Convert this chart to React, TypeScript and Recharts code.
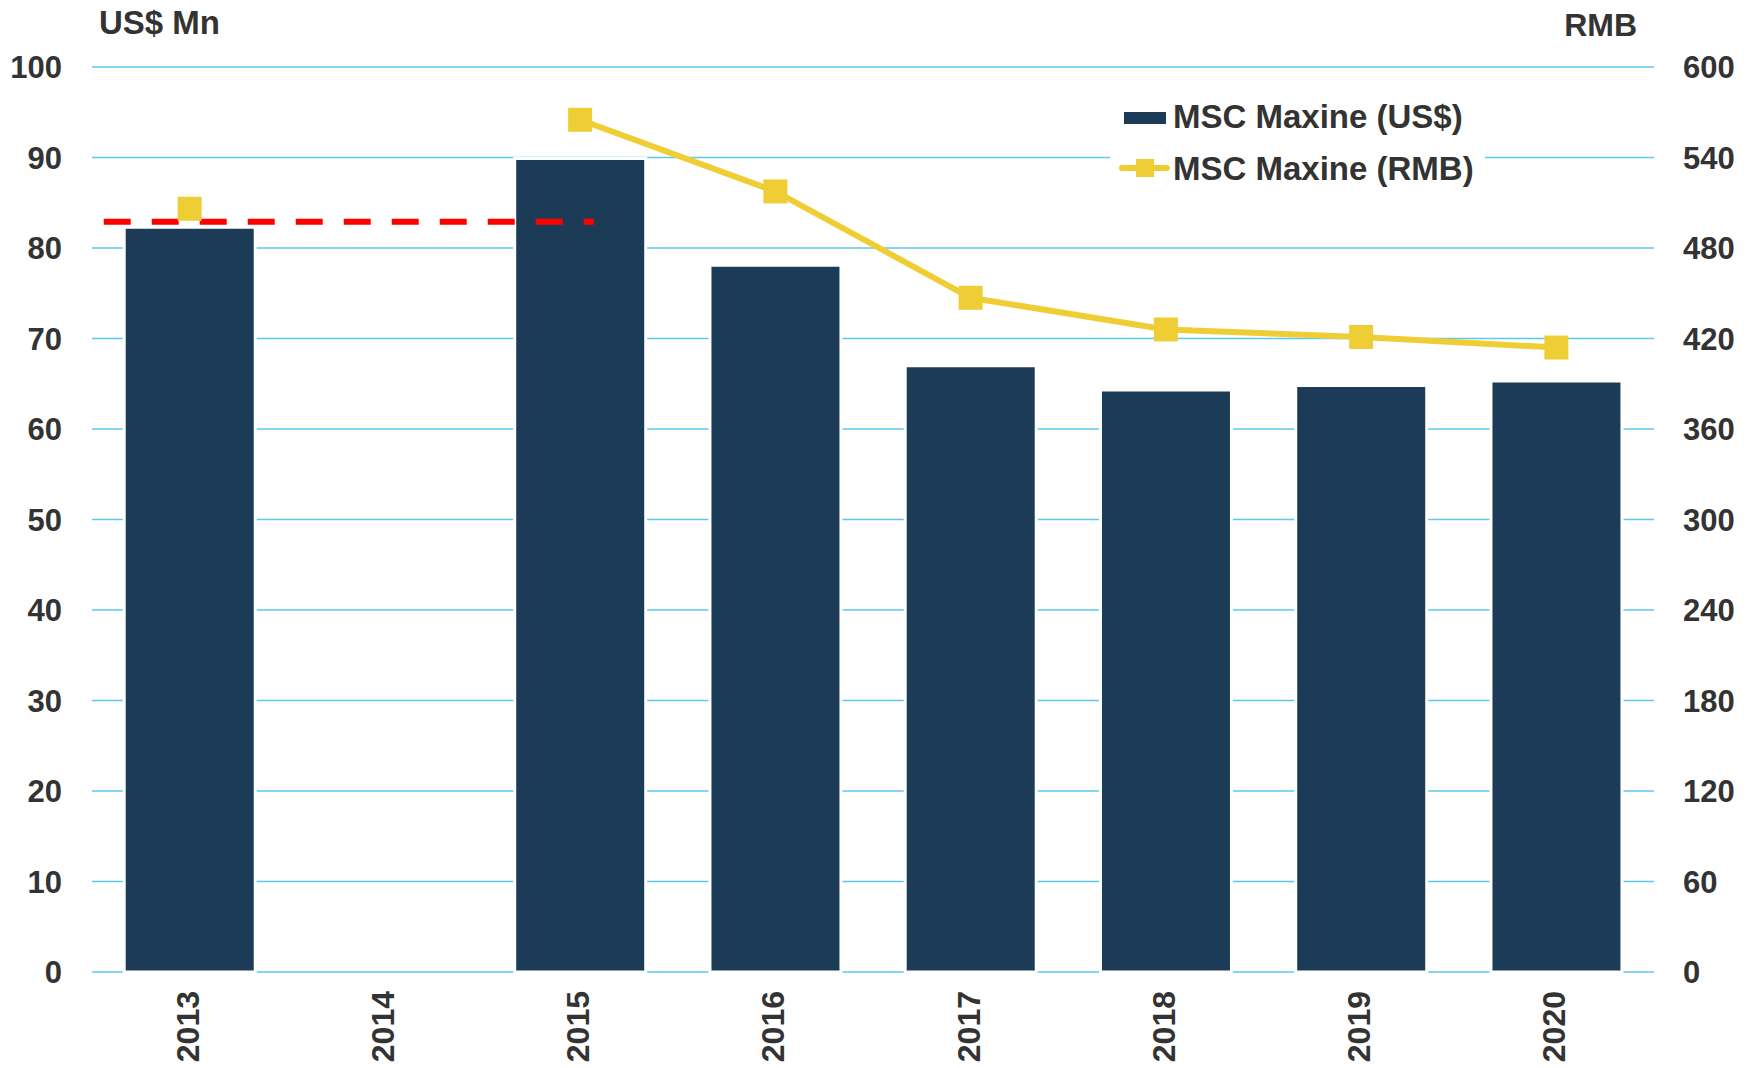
import React from 'react';
import {
  ComposedChart,
  Bar,
  Line,
  XAxis,
  YAxis,
  CartesianGrid,
  ReferenceLine,
  Legend,
} from 'recharts';

const categories = ['2013', '2014', '2015', '2016', '2017', '2018', '2019', '2020'];
const usdValues: (number | null)[] = [82.3, null, 89.9, 78.1, 67.0, 64.3, 64.8, 65.3];
const rmbValues: (number | null)[] = [506, null, 565, 517.5, 447, 426, 421, 414];
const leftTicks = [0, 10, 20, 30, 40, 50, 60, 70, 80, 90, 100];
const rightTicks = [0, 60, 120, 180, 240, 300, 360, 420, 480, 540, 600];
const refLineValue = 82.9;
const refLineStart = 0.06;
const refLineEnd = 2.57;

const usdName = 'MSC Maxine (US$)';
const rmbName = 'MSC Maxine (RMB)';

const data = categories.map((c, i) => ({ year: c, usd: usdValues[i], rmb: rmbValues[i] }));

const BAR_COLOR = '#1B3B56';
const LINE_COLOR = '#EFCE35';
const GRID_COLOR = '#5BC8EE';
const TEXT_COLOR = '#333333';
const FONT = '"Liberation Sans", Arial, sans-serif';

const LeftTick = (props: any) => {
  const { x, y, payload } = props;
  return (
    <text x={x - 30} y={y} dy="0.36em" textAnchor="end" fontFamily={FONT} fontWeight="bold" fontSize={31} fill={TEXT_COLOR}>
      {payload.value}
    </text>
  );
};

const RightTick = (props: any) => {
  const { x, y, payload } = props;
  return (
    <text x={x + 29} y={y} dy="0.36em" textAnchor="start" fontFamily={FONT} fontWeight="bold" fontSize={31} fill={TEXT_COLOR}>
      {payload.value}
    </text>
  );
};

const XTick = (props: any) => {
  const { x, y, payload } = props;
  const tx = x - 2;
  const ty = y + 19;
  return (
    <text
      x={tx}
      y={ty}
      transform={`rotate(-90 ${tx} ${ty})`}
      textAnchor="end"
      dominantBaseline="central"
      fontFamily={FONT}
      fontWeight="bold"
      fontSize={32}
      fill={TEXT_COLOR}
    >
      {payload.value}
    </text>
  );
};

const SquareDot = (props: any) => {
  const { cx, cy, value, index } = props;
  if (cx == null || cy == null || value == null || isNaN(cy)) return <g key={`d${index}`} />;
  return <rect key={`d${index}`} x={cx - 12} y={cy - 12} width={24} height={24} fill={LINE_COLOR} />;
};

const LegendContent = () => (
  <div style={{ position: 'relative', width: 375, height: 95, background: '#fff', fontFamily: FONT, fontWeight: 'bold', fontSize: 33, color: TEXT_COLOR }}>
    <div style={{ position: 'absolute', left: 14, top: 19, width: 42, height: 12, background: BAR_COLOR }} />
    <div style={{ position: 'absolute', left: 63, top: 7, lineHeight: '33px', whiteSpace: 'nowrap' }}>{usdName}</div>
    <div style={{ position: 'absolute', left: 9, top: 72, width: 51, height: 6, borderRadius: 3, background: LINE_COLOR }} />
    <div style={{ position: 'absolute', left: 26, top: 66, width: 18, height: 18, background: LINE_COLOR }} />
    <div style={{ position: 'absolute', left: 63, top: 59, lineHeight: '33px', whiteSpace: 'nowrap' }}>{rmbName}</div>
  </div>
);

export default function App() {
  return (
    <div style={{ position: 'absolute', left: 0, top: 0, width: 1756, height: 1068, background: '#fff', overflow: 'hidden' }}>
      <div style={{ position: 'absolute', left: 99, top: 7, fontFamily: FONT, fontWeight: 'bold', fontSize: 33, lineHeight: '32px', color: TEXT_COLOR, whiteSpace: 'nowrap' }}>
        US$ Mn
      </div>
      <div style={{ position: 'absolute', right: 1756 - 1637, top: 9, fontFamily: FONT, fontWeight: 'bold', fontSize: 32, lineHeight: '32px', color: TEXT_COLOR, whiteSpace: 'nowrap' }}>
        RMB
      </div>
      <ComposedChart
        width={1756}
        height={1068}
        data={data}
        margin={{ top: 67, right: 0, bottom: 0, left: 0 }}
        barCategoryGap="16.5%"
      >
        <CartesianGrid horizontal vertical={false} yAxisId="left" stroke={GRID_COLOR} strokeWidth={1.5} />
        <XAxis dataKey="year" xAxisId="cat" height={96} axisLine={false} tickLine={false} tickSize={0} tickMargin={0} tick={<XTick />} interval={0} />
        <XAxis xAxisId="idx" type="number" dataKey="idx" domain={[0, 8]} allowDataOverflow hide />
        <YAxis yAxisId="left" domain={[0, 100]} ticks={leftTicks} width={92} axisLine={false} tickLine={false} tickSize={0} tickMargin={0} tick={<LeftTick />} interval={0} />
        <YAxis yAxisId="right" orientation="right" domain={[0, 600]} ticks={rightTicks} width={102} axisLine={false} tickLine={false} tickSize={0} tickMargin={0} tick={<RightTick />} interval={0} />
        <Bar xAxisId="cat" yAxisId="left" dataKey="usd" name={usdName} fill={BAR_COLOR} stroke="#ffffff" strokeWidth={3} isAnimationActive={false} />
        <ReferenceLine
          xAxisId="idx"
          yAxisId="left"
          segment={[{ x: refLineStart, y: refLineValue }, { x: refLineEnd, y: refLineValue }]}
          stroke="#FF0000"
          strokeWidth={6}
          strokeDasharray="27 21"
          ifOverflow="visible"
        />
        <Line
          xAxisId="cat"
          yAxisId="right"
          dataKey="rmb"
          name={rmbName}
          stroke={LINE_COLOR}
          strokeWidth={6}
          dot={<SquareDot />}
          activeDot={false}
          isAnimationActive={false}
        />
        <Legend
          layout="vertical"
          align="center"
          verticalAlign="middle"
          content={<LegendContent />}
          wrapperStyle={{ position: 'absolute', left: 1110, top: 93, width: 375, height: 95 }}
        />
      </ComposedChart>
    </div>
  );
}
